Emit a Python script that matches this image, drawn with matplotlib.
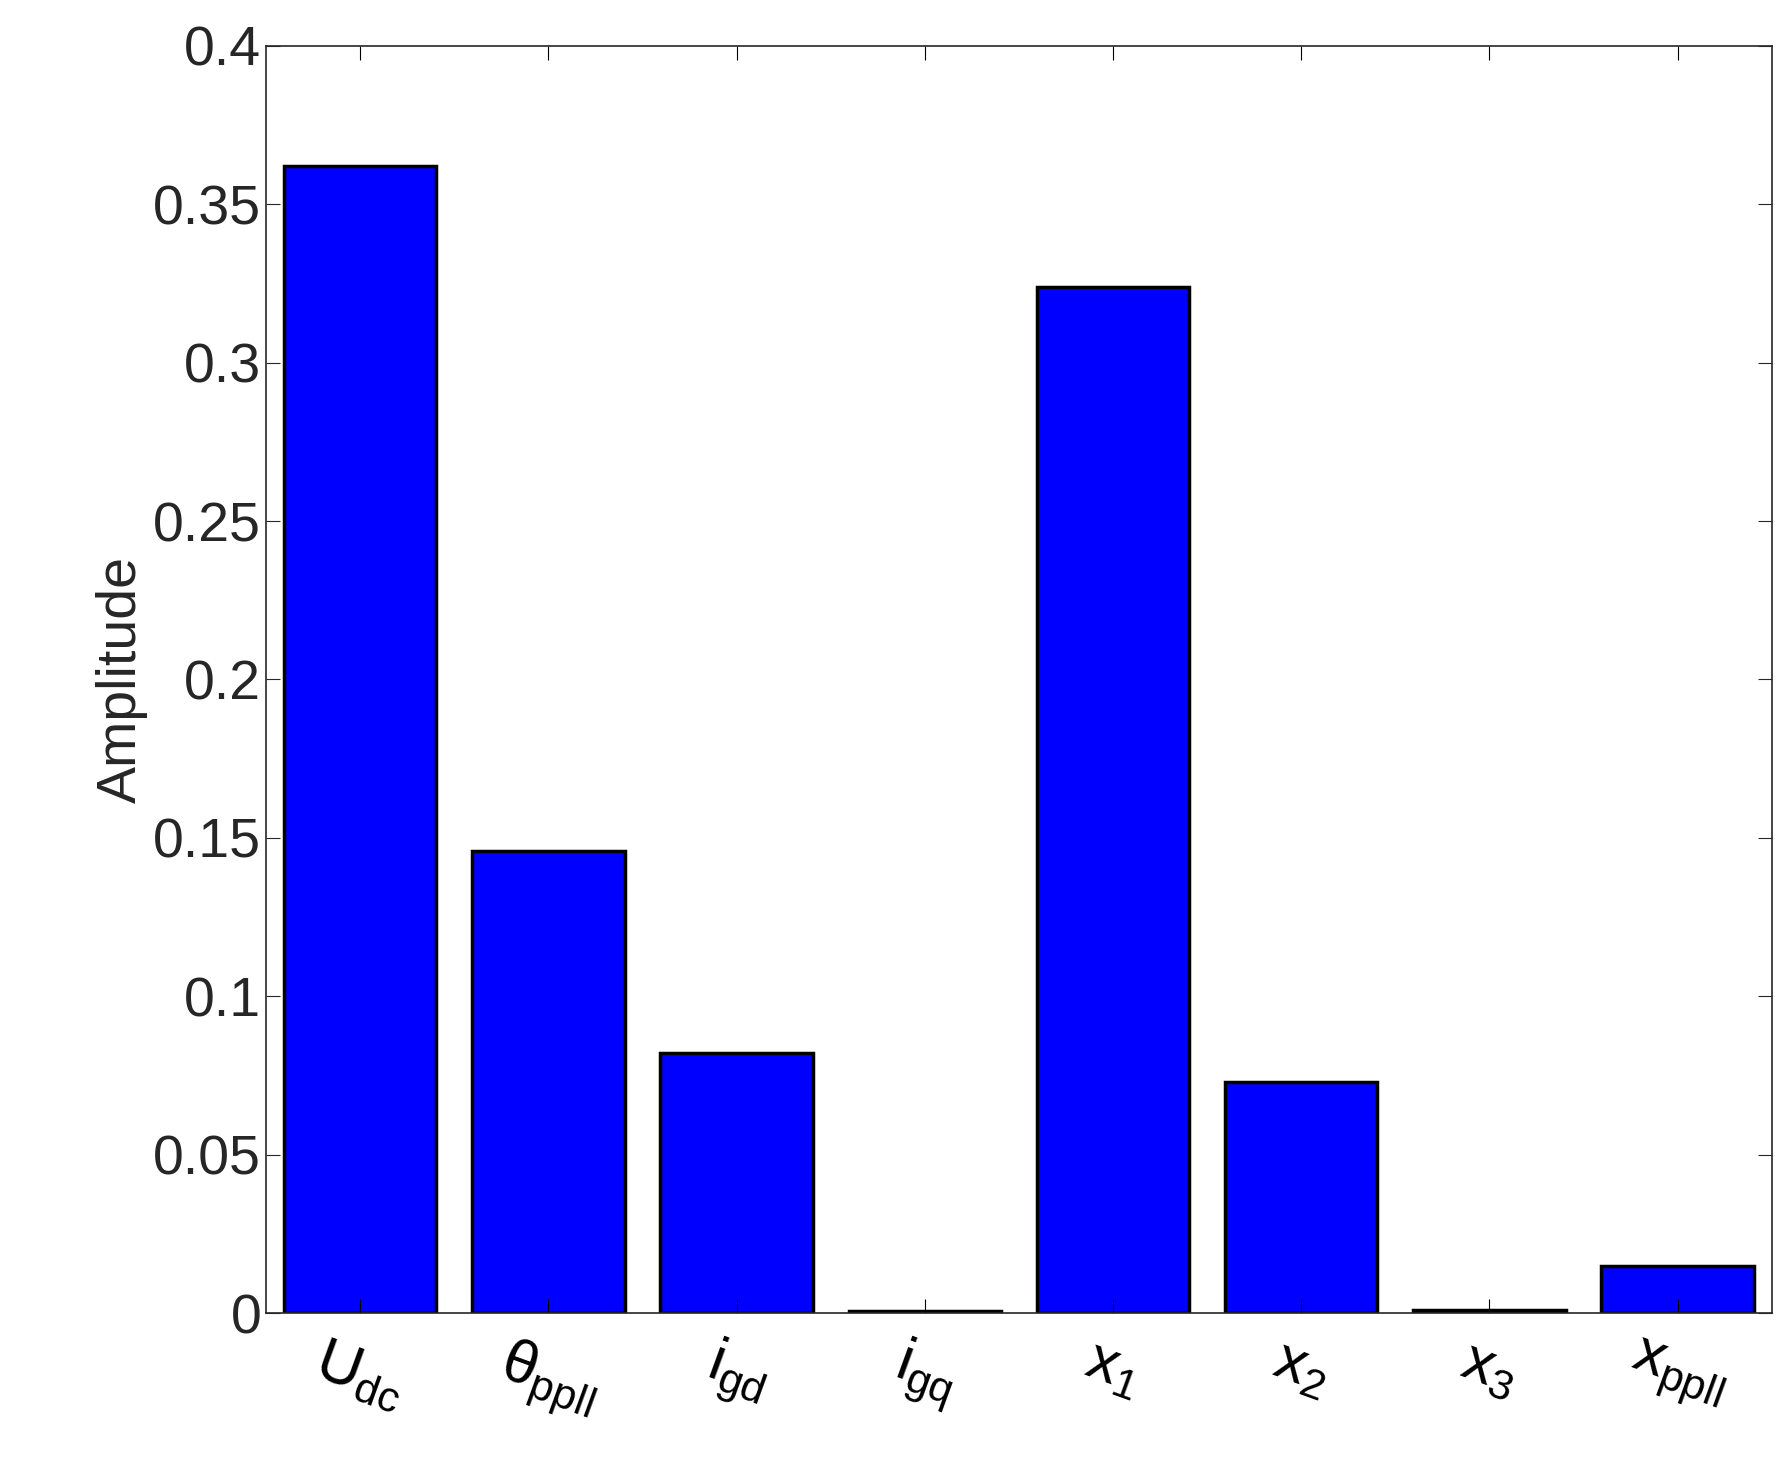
import matplotlib.pyplot as plt

plt.rcParams['font.family'] = ['Liberation Sans', 'DejaVu Sans']
plt.rcParams['mathtext.fontset'] = 'custom'
plt.rcParams['mathtext.rm'] = 'Liberation Sans'
plt.rcParams['mathtext.it'] = 'Liberation Sans'

labels = [r'$\mathrm{U}_{\mathrm{dc}}$', r'$\theta_{\mathrm{ppll}}$', r'$\mathrm{i}_{\mathrm{gd}}$',
          r'$\mathrm{i}_{\mathrm{gq}}$', r'$\mathrm{x}_{1}$', r'$\mathrm{x}_{2}$',
          r'$\mathrm{x}_{3}$', r'$\mathrm{x}_{\mathrm{ppll}}$']
amplitude = [0.362, 0.146, 0.082, 0.0005, 0.324, 0.073, 0.001, 0.015]
yticks = [0, 0.05, 0.1, 0.15, 0.2, 0.25, 0.3, 0.35, 0.4]

fig = plt.figure(figsize=(17.86, 14.77), dpi=100)
ax = fig.add_axes([0.149, 0.111, 0.843, 0.858])
pos = list(range(1, len(amplitude) + 1))
ax.bar(pos, amplitude, width=0.81, color='#0000ff', edgecolor='black', linewidth=2.5)
ax.set_xlim(0.5, 8.5)
ax.set_ylim(0, 0.4)
ax.set_yticks(yticks)
ax.set_yticklabels(['0', '0.05', '0.1', '0.15', '0.2', '0.25', '0.3', '0.35', '0.4'])
ax.set_xticks(pos)
ax.set_xticklabels(labels, rotation=-20, ha='center', va='top', fontsize=44)
ax.tick_params(axis='y', labelsize=40, colors='#262626', direction='in', right=True, length=10)
ax.tick_params(axis='x', direction='in', top=True, length=10, pad=14)
ax.set_ylabel('Amplitude', fontsize=40, color='#262626')
for s in ax.spines.values():
    s.set_color('#262626')
    s.set_linewidth(1.2)
fig.savefig('out.png', dpi=100)
